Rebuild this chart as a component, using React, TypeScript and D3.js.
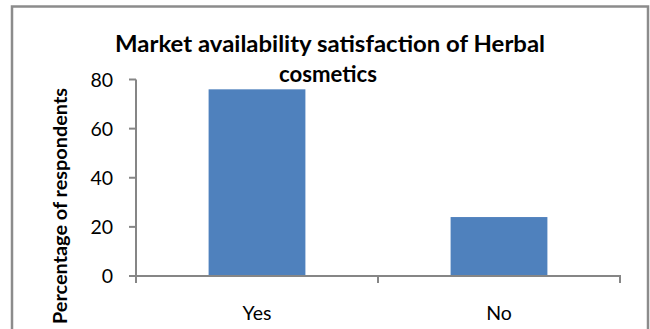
import React from "react";
import * as d3 from "d3";

const categories = ["Yes", "No"];
const values = [76, 24];
const yTicks = [0, 20, 40, 60, 80];
const titleLines = ["Market availability satisfaction of Herbal", "cosmetics"];
const yAxisTitle = "Percentage of respondents";

const W = 650;
const H = 329;
const FONT = "Lato, 'Open Sans', sans-serif";
const AXIS = "#868686";

export default function App() {
  const x = d3
    .scaleBand<string>()
    .domain(categories)
    .range([136, 620])
    .paddingInner(0.6)
    .paddingOuter(0.3);
  const y = d3.scaleLinear().domain([0, 80]).range([276, 79.5]);
  const step = x.step();
  const catTicks = d3.range(categories.length + 1).map((i) => 136 + i * step);

  return (
    <svg
      width={W}
      height={H}
      style={{ position: "absolute", left: 0, top: 0, background: "#fff" }}
    >
      <rect x={0} y={0} width={W} height={H} fill="#fff" />
      <rect
        x={12}
        y={6.5}
        width={636}
        height={360}
        fill="none"
        stroke="#8c8c8c"
        strokeWidth={2.5}
      />
      {/* title */}
      <text
        x={330}
        y={52}
        textAnchor="middle"
        fontFamily={FONT}
        fontWeight="bold"
        fontSize={22}
        fill="#000"
        textLength={430}
        lengthAdjust="spacingAndGlyphs"
      >
        {titleLines[0]}
      </text>
      <text
        x={328}
        y={82}
        textAnchor="middle"
        fontFamily={FONT}
        fontWeight="bold"
        fontSize={22}
        fill="#000"
        textLength={98}
        lengthAdjust="spacingAndGlyphs"
      >
        {titleLines[1]}
      </text>
      {/* bars */}
      {categories.map((c, i) => (
        <rect
          key={c}
          x={x(c)}
          y={y(values[i])}
          width={x.bandwidth()}
          height={y(0) - y(values[i])}
          fill="#4f81bd"
        />
      ))}
      {/* y axis */}
      <line x1={136} x2={136} y1={y(80)} y2={y(0)} stroke={AXIS} strokeWidth={2} />
      {yTicks.map((t) => (
        <g key={t}>
          <line x1={129} x2={136} y1={y(t)} y2={y(t)} stroke={AXIS} strokeWidth={2} />
          <text
            x={113}
            y={y(t) + 7}
            textAnchor="end"
            fontFamily={FONT}
            fontSize={19.5}
            fill="#000"
          >
            {t}
          </text>
        </g>
      ))}
      {/* x axis */}
      <line x1={135} x2={621} y1={y(0)} y2={y(0)} stroke={AXIS} strokeWidth={2} />
      {catTicks.map((t, i) => (
        <line key={i} x1={t} x2={t} y1={y(0)} y2={y(0) + 7} stroke={AXIS} strokeWidth={2} />
      ))}
      {categories.map((c) => (
        <text
          key={c}
          x={(x(c) ?? 0) + x.bandwidth() / 2}
          y={319.5}
          textAnchor="middle"
          fontFamily={FONT}
          fontSize={19.5}
          fill="#000"
        >
          {c}
        </text>
      ))}
      {/* y title */}
      <text
        transform={`translate(67,206) rotate(-90)`}
        textAnchor="middle"
        fontFamily={FONT}
        fontWeight="bold"
        fontSize={19}
        fill="#000"
        textLength={236}
        lengthAdjust="spacingAndGlyphs"
      >
        {yAxisTitle}
      </text>
    </svg>
  );
}
